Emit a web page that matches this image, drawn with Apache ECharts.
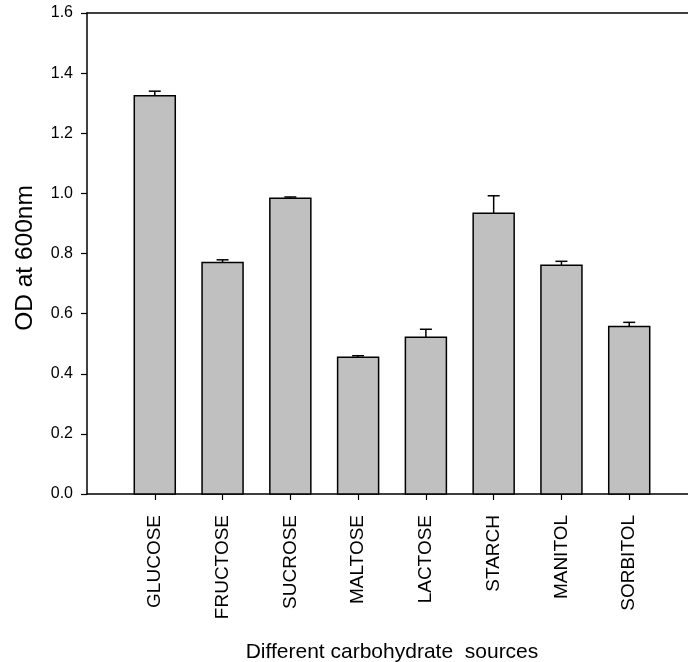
<!DOCTYPE html>
<html>
<head>
<meta charset="utf-8">
<script src="https://cdn.jsdelivr.net/npm/echarts@6/dist/echarts.min.js"></script>
<style>
  html, body { margin: 0; padding: 0; background: #fff; }
  #chart { width: 688px; height: 662px; }
</style>
</head>
<body>
<div id="chart"></div>
<script>
// Carbohydrate sources tested and the measured growth (OD at 600 nm)
const sources = ['GLUCOSE', 'FRUCTOSE', 'SUCROSE', 'MALTOSE', 'LACTOSE', 'STARCH', 'MANITOL', 'SORBITOL'];
const odMeans = [1.325, 0.770, 0.984, 0.455, 0.521, 0.934, 0.761, 0.557];
const odErrors = [0.015, 0.009, 0.004, 0.005, 0.027, 0.058, 0.013, 0.014];
const yTicks = [0, 0.2, 0.4, 0.6, 0.8, 1.0, 1.2, 1.4, 1.6];

// Each source sits at an integer slot on the x value axis
const slots = sources.map((_, i) => i + 1);
const barData = sources.map((_, i) => [slots[i], odMeans[i], odErrors[i]]);

const FONT = "Arial, 'Liberation Sans', Helvetica, sans-serif";
const INK = '#000';

function renderBar(params, api) {
  const x = api.value(0);
  const v = api.value(1);
  const e = api.value(2);
  const base = api.coord([x, 0]);
  const top = api.coord([x, v]);
  const errTop = api.coord([x, v + e]);
  const bw = api.size([0.605, 0])[0];
  const cap = 12;
  const lineStyle = { stroke: '#000', lineWidth: 1.5 };
  return {
    type: 'group',
    children: [
      {
        type: 'line',
        shape: { x1: top[0], y1: top[1], x2: top[0], y2: errTop[1] },
        style: lineStyle
      },
      {
        type: 'line',
        shape: { x1: top[0] - cap / 2, y1: errTop[1], x2: top[0] + cap / 2, y2: errTop[1] },
        style: lineStyle
      },
      {
        type: 'rect',
        shape: { x: base[0] - bw / 2, y: top[1], width: bw, height: base[1] - top[1] },
        style: { fill: '#c0c0c0', stroke: '#000', lineWidth: 1.5 }
      }
    ]
  };
}

const chart = echarts.init(document.getElementById('chart'), null, { renderer: 'canvas' });
chart.setOption({
  animation: false,
  backgroundColor: '#fff',
  textStyle: { fontFamily: FONT, color: INK },
  grid: { left: 87, top: 13, width: 610, height: 481, containLabel: false, outerBoundsMode: 'none' },
  xAxis: [
    {
      type: 'value',
      min: 0,
      max: 9,
      interval: 1,
      position: 'bottom',
      name: 'Different carbohydrate  sources',
      nameLocation: 'middle',
      nameGap: 148,
      nameTextStyle: { fontSize: 21, color: INK, fontFamily: FONT },
      splitLine: { show: false },
      axisLine: { show: true, lineStyle: { color: '#000', width: 1.5 } },
      axisTick: { show: true, inside: false, length: 6, customValues: slots, lineStyle: { color: '#000', width: 1.2 } },
      axisLabel: {
        show: true,
        customValues: slots,
        rotate: 90,
        margin: 21,
        fontSize: 19,
        color: INK,
        fontFamily: FONT,
        formatter: (v) => sources[Math.round(v) - 1] || ''
      }
    },
    {
      type: 'value',
      min: 0,
      max: 9,
      position: 'top',
      splitLine: { show: false },
      axisLine: { show: true, lineStyle: { color: '#000', width: 1.5 } },
      axisTick: { show: false },
      axisLabel: { show: false }
    }
  ],
  yAxis: {
    type: 'value',
    min: yTicks[0],
    max: yTicks[yTicks.length - 1],
    interval: 0.2,
    name: 'OD at 600nm',
    nameLocation: 'middle',
    nameGap: 49,
    nameTextStyle: { fontSize: 24.5, color: INK, fontFamily: FONT, padding: [0, 9, 0, 0] },
    splitLine: { show: false },
    axisLine: { show: true, lineStyle: { color: '#000', width: 1.5 } },
    axisTick: { show: true, inside: false, length: 6, lineStyle: { color: '#000', width: 1.2 } },
    axisLabel: {
      margin: 14,
      fontSize: 16,
      color: INK,
      fontFamily: FONT,
      formatter: (v) => v.toFixed(1)
    }
  },
  series: [
    {
      type: 'custom',
      xAxisIndex: 0,
      yAxisIndex: 0,
      renderItem: renderBar,
      encode: { x: 0, y: 1 },
      data: barData,
      clip: false
    }
  ]
});
</script>
</body>
</html>
